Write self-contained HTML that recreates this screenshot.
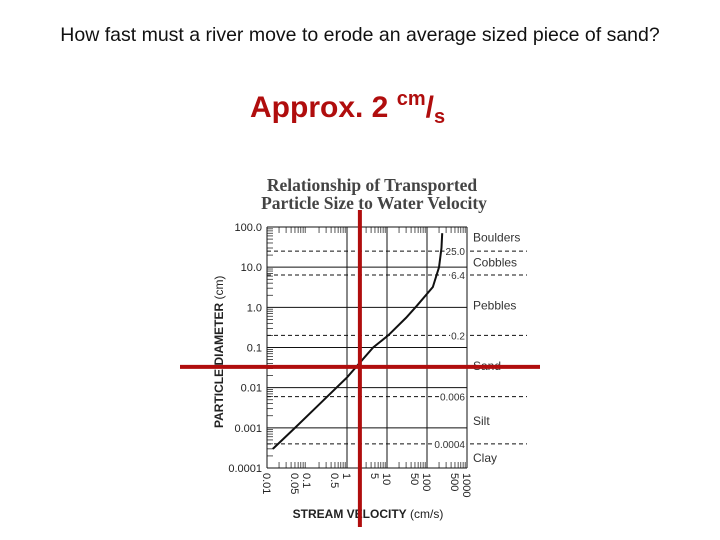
<!DOCTYPE html>
<html><head><meta charset="utf-8"><style>
body{margin:0;width:720px;height:540px;background:#fff;overflow:hidden;font-family:"Liberation Sans",sans-serif}
#q{position:absolute;left:0;width:720px;top:24px;text-align:center;font-size:19.5px;color:#111}
#a{position:absolute;left:250px;top:88px;font-size:30px;font-weight:bold;color:#b00d0d;white-space:nowrap}
svg{position:absolute;left:0;top:0}
</style></head><body>
<div id="q">How fast must a river move to erode an average sized piece of sand?</div>
<div id="a">Approx. 2 <sup style="font-size:20px;vertical-align:12px">cm</sup>/<sub style="font-size:20px;vertical-align:-6px">s</sub></div>
<svg id="c" width="720" height="540"></svg>
<script>
const xTicks=[0.01,0.05,0.1,0.5,1,5,10,50,100,500,1000];
const xTickLabels=["0.01","0.05","0.1","0.5","1","5","10","50","100","500","1000"];
const xGrid=[0.01,1,10,100,1000];
const yTicks=[100,10,1,0.1,0.01,0.001,0.0001];
const yTickLabels=["100.0","10.0","1.0","0.1","0.01","0.001","0.0001"];
const boundaries=[25,6.4,0.2,0.006,0.0004];
const boundaryLabels=["25.0","6.4","0.2","0.006","0.0004"];
const classNames=["Boulders","Cobbles","Pebbles","Sand","Silt","Clay"];
const classDiam=[55,13,1.1,0.035,0.0015,0.00018];
const curveV=[0.014,0.05,0.2,1,4.5,10.7,30,56,140,200,230,240];
const curveD=[0.0003,0.001,0.0038,0.018,0.1,0.2,0.55,1.1,3.2,10,30,70];
const markV=[2.1]; const markD=[0.033];
const X=v=>267+40*(Math.log10(v)+2);
const Y=d=>227+40.17*(2-Math.log10(d));
const s=document.getElementById('c');const NS='http://www.w3.org/2000/svg';
function el(t,a,txt){const e=document.createElementNS(NS,t);for(const k in a)e.setAttribute(k,a[k]);if(txt!==undefined)e.textContent=txt;s.appendChild(e);return e;}
let e;
e=el('text',{x:372,y:191,'text-anchor':'middle','font-family':'Liberation Serif,serif','font-weight':'bold','font-size':17.5,fill:'#444'},'Relationship of Transported');

e=el('text',{x:374,y:209,'text-anchor':'middle','font-family':'Liberation Serif,serif','font-weight':'bold','font-size':17.5,fill:'#444'},'Particle Size to Water Velocity');

for(let i=0;i<yTicks.length;i++){const y=Y(yTicks[i]);
 e=el('line',{x1:267,x2:467,y1:y,y2:y,stroke:'#111','stroke-width':1});
 e=el('text',{x:262,y:y+4,'text-anchor':'end','font-size':11,fill:'#222'},yTickLabels[i]);
 if(i<yTicks.length-1)for(let m=2;m<10;m++){const yy=Y(yTicks[i+1]*m);e=el('line',{x1:267,x2:273,y1:yy,y2:yy,stroke:'#111','stroke-width':0.7});}
}
for(const g of xGrid){const x=X(g);
 e=el('line',{x1:x,x2:x,y1:Y(100),y2:Y(0.0001),stroke:'#111','stroke-width':1});}
for(let p=-2;p<3;p++){for(let m=2;m<10;m++){const xx=X(Math.pow(10,p)*m);
  e=el('line',{x1:xx,x2:xx,y1:Y(100),y2:Y(100)+6,stroke:'#111','stroke-width':0.7});
  e=el('line',{x1:xx,x2:xx,y1:Y(0.0001),y2:Y(0.0001)-6,stroke:'#111','stroke-width':0.7});}}
for(let i=0;i<xTicks.length;i++){const x=X(xTicks[i]);
 e=el('text',{x:0,y:0,transform:`translate(${x-4},473) rotate(90)`,'font-size':11,fill:'#222'},xTickLabels[i]);}
for(let i=0;i<boundaries.length;i++){const y=Y(boundaries[i]);
 e=el('line',{x1:267,x2:527,y1:y,y2:y,stroke:'#111','stroke-width':1,'stroke-dasharray':'4,3'});
 const t=el('text',{x:465,y:y+4,'text-anchor':'end','font-size':10,fill:'#333'},boundaryLabels[i]);
 const b=t.getBBox();e=el('rect',{x:b.x-1,y:b.y,width:b.width+2,height:b.height,fill:'#fff'});s.insertBefore(e,t);}
for(let i=0;i<classNames.length;i++){e=el('text',{x:473,y:Y(classDiam[i])+4,'font-size':12,fill:'#333'},classNames[i]);}
e=el('text',{x:0,y:0,transform:'translate(223,428) rotate(-90)','font-size':12,fill:'#222'});e.innerHTML='<tspan font-weight="bold">PARTICLE DIAMETER</tspan> (cm)';
e=el('text',{x:368,y:518,'text-anchor':'middle','font-size':12,fill:'#222'});e.innerHTML='<tspan font-weight="bold">STREAM VELOCITY</tspan> (cm/s)';
e=el('polyline',{points:curveV.map((v,i)=>X(v)+','+Y(curveD[i])).join(' '),fill:'none',stroke:'#111','stroke-width':2});
e=el('line',{x1:X(markV[0]),x2:X(markV[0]),y1:210,y2:527,stroke:'#b00d0d','stroke-width':4});
e=el('line',{x1:180,x2:540,y1:Y(markD[0]),y2:Y(markD[0]),stroke:'#b00d0d','stroke-width':4});
</script>
</body></html>
